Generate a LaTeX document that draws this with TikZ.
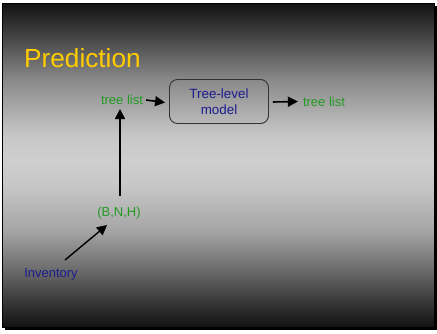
\documentclass[tikz,border=0pt]{standalone}
\usepackage{fontspec}
\setmainfont{Liberation Sans}
\usetikzlibrary{arrows.meta}
\definecolor{titleyellow}{HTML}{FFCC00}
\definecolor{txtgreen}{HTML}{239B23}
\definecolor{txtblue}{HTML}{1C1C8E}
\pgfdeclareverticalshading{slidebg}{100bp}{%
  rgb(0bp)=(0.07,0.07,0.07); rgb(25bp)=(0.07,0.07,0.07);
  rgb(29.2bp)=(0.23,0.23,0.23); rgb(33.8bp)=(0.42,0.42,0.42);
  rgb(40bp)=(0.65,0.65,0.65); rgb(46.9bp)=(0.78,0.78,0.78);
  rgb(50.8bp)=(0.81,0.81,0.81); rgb(54.6bp)=(0.78,0.78,0.78);
  rgb(63.1bp)=(0.54,0.54,0.54); rgb(70.8bp)=(0.23,0.23,0.23);
  rgb(75bp)=(0.07,0.07,0.07); rgb(100bp)=(0.07,0.07,0.07)}
\tikzset{
  lbl/.style={inner sep=0pt, font=\fontsize{13}{15}\selectfont},
  greenlbl/.style={lbl, text=txtgreen},
  bluelbl/.style={lbl, text=txtblue},
  modelbox/.style={draw=black!80, line width=0.9pt, rounded corners=8pt,
    minimum width=99pt, minimum height=44pt, align=center, text=txtblue,
    font=\fontsize{13.4}{15.5}\selectfont},
  flow/.style={line width=1.6pt, -{Triangle[length=10pt,width=10pt]}}
}
\begin{document}
\begin{tikzpicture}
\useasboundingbox (0pt,0pt) rectangle (437pt,-333pt);
\fill[white] (0pt,0pt) rectangle (437pt,-333pt);
\fill[black] (5pt,-6pt) rectangle (437pt,-330pt);
\shade[shading=slidebg] (2pt,-3pt) rectangle (434pt,-327pt);
\draw[black, line width=0.8pt] (2pt,-3pt) rectangle (434pt,-327pt);
\begin{scope}[x=1pt,y=-1pt]
\node[anchor=base west, inner sep=0pt, text=titleyellow, font=\fontsize{26.2}{28}\selectfont] (title) at (24,67) {Prediction};

\node[greenlbl] (tl1) at (122,100) {tree list};
\node[modelbox] (model) at (219,101.5) {Tree-level\\model};
\node[greenlbl] (tl2) at (324,102) {tree list};
\node[greenlbl] (bnh) at (119,213) {(B,N,H)};
\node[bluelbl] (inv) at (51,274) {Inventory};

\draw[flow] ([xshift=3pt]tl1.east) -- ([xshift=-4pt,yshift=-1pt]model.west);
\draw[flow] ([xshift=4pt,yshift=-0.5pt]model.east) -- ([xshift=-5pt,yshift=0.5pt]tl2.west);
\coordinate (vtail) at (120,196);
\coordinate (vtip) at (120,109);
\draw[flow] (vtail) -- (vtip);
\coordinate (invtail) at (65,260);
\coordinate (bnhtip) at (107,225);
\draw[flow, line width=1.4pt] (invtail) -- (bnhtip);
\end{scope}
\end{tikzpicture}
\end{document}
